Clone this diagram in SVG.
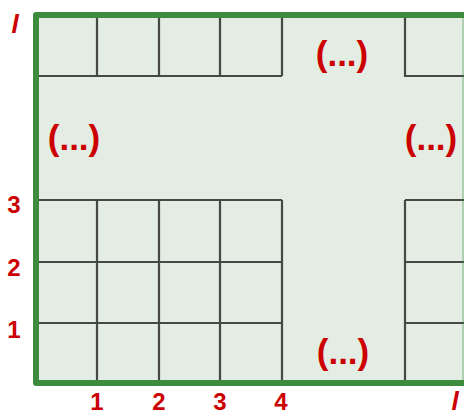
<svg xmlns="http://www.w3.org/2000/svg" width="464" height="416" viewBox="0 0 464 416">
<style>
.grid{stroke:#2a2a2a;stroke-width:2.2;stroke-opacity:0.85;fill:none}
.lbl{font-family:"Liberation Sans",Arial,sans-serif;font-weight:bold;fill:#cc0000;font-size:24px;text-anchor:middle}
.dots{font-size:35px}
.ital{font-style:italic;font-size:26px}
</style>
<rect width="464" height="416" fill="#fff"/>
<g id="area">
<rect x="36" y="15" width="432" height="368" fill="#e3ede3"/>
</g>
<g id="connectors">
<path class="grid" d="M97 15V76M159 15V76M220 15V76M282 15V76M36 76H282M405 15V76H464"/>
<path class="grid" d="M36 200H282M36 262H282M36 323H282M97 200V383M159 200V383M220 200V383M282 200V383"/>
<path class="grid" d="M405 200V383M405 200H464M405 262H464M405 323H464"/>
</g>
<g id="border">
<path d="M464 15H36V383H464" fill="none" stroke="#3d8b3d" stroke-width="6" stroke-linecap="round" stroke-linejoin="round"/>
<path d="M463 15V383" stroke="#3d8b3d" stroke-width="1" stroke-opacity="0.6"/>
</g>
<g id="labels">
<text class="lbl ital" x="15" y="33">l</text>
<text class="lbl ital" x="455" y="410">l</text>
<text class="lbl dots" x="342" y="66">(...)</text>
<text class="lbl dots" x="74" y="150">(...)</text>
<text class="lbl dots" x="431" y="150">(...)</text>
<text class="lbl dots" x="343" y="364">(...)</text>
<text class="lbl" x="14" y="213">3</text>
<text class="lbl" x="14" y="276">2</text>
<text class="lbl" x="14" y="338">1</text>
<text class="lbl" x="97" y="410">1</text>
<text class="lbl" x="159" y="410">2</text>
<text class="lbl" x="220" y="410">3</text>
<text class="lbl" x="281" y="410">4</text>
</g>
</svg>
